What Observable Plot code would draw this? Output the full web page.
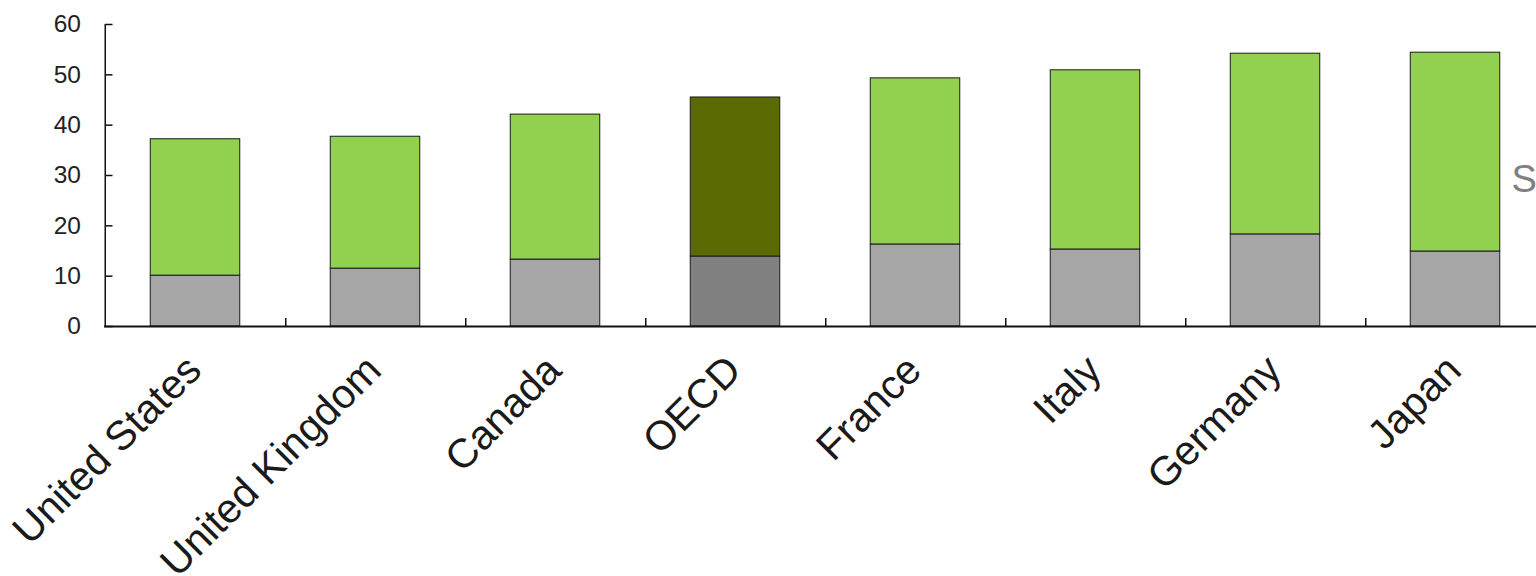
<!DOCTYPE html>
<html>
<head>
<meta charset="utf-8">
<script src="https://cdn.jsdelivr.net/npm/d3@7"></script>
<script src="https://cdn.jsdelivr.net/npm/@observablehq/plot@0.6"></script>
<style>
  html, body { margin: 0; padding: 0; background: #fff; overflow: hidden; }
  #chart svg { overflow: hidden; display: block; }
</style>
</head>
<body>
<div id="chart"></div>
<script>
const countries = ["United States", "United Kingdom", "Canada", "OECD", "France", "Italy", "Germany", "Japan"];
const lowerValues = [10.1, 11.5, 13.3, 13.9, 16.3, 15.3, 18.3, 14.9];
const totalValues = [37.2, 37.7, 42.1, 45.5, 49.3, 50.9, 54.2, 54.4];
const yTicks = [0, 10, 20, 30, 40, 50, 60];
const legendFragment = ["S"];

const rows = countries.map((c, i) => ({country: c, lower: lowerValues[i], total: totalValues[i]}));
const isOECD = d => d.country === "OECD";
const font = "'Liberation Sans', Arial, sans-serif";

const chart = Plot.plot({
  width: 1536,
  height: 576,
  marginLeft: 104,
  marginTop: 24,
  marginBottom: 250,
  marginRight: 0,
  style: {fontFamily: font, background: "#fff", color: "#222"},
  x: {domain: countries, range: [103, 1547], padding: 0, axis: null},
  y: {domain: [0, 60], ticks: yTicks, axis: null},
  marks: [
    Plot.barY(rows, {x: "country", y1: 0, y2: "lower", insetLeft: 45.25, insetRight: 45.25,
      fill: d => isOECD(d) ? "#808080" : "#a6a6a6", stroke: "#1a1a1a", strokeWidth: 1}),
    Plot.barY(rows, {x: "country", y1: "lower", y2: "total", insetLeft: 45.25, insetRight: 45.25,
      fill: d => isOECD(d) ? "#5b6a03" : "#92d050", stroke: "#1a1a1a", strokeWidth: 1}),
    Plot.text(yTicks, {x: () => countries[0], y: d => d, dx: -114.5, text: d => String(d), textAnchor: "end",
      lineAnchor: "middle", fontSize: 24.5, fill: "#222"}),
    Plot.tickY(yTicks, {y: d => d, x: () => countries[0], insetRight: 172.5, stroke: "#111", strokeWidth: 1.5}),
    Plot.ruleX([countries[0]], {x: d => d, dx: -90.25, y1: 0, y2: 60, stroke: "#111", strokeWidth: 1.5}),
    Plot.ruleX(countries, {x: d => d, dx: 90.25, y1: 0, y2: 1.6, stroke: "#111", strokeWidth: 1.5}),
    Plot.ruleY([0], {stroke: "#111", strokeWidth: 2}),
    Plot.text(countries, {x: d => d, y: 0, dx: 8, dy: 46, rotate: -45, textAnchor: "end", lineAnchor: "bottom",
      fontSize: 41, fill: "#1a1a1a"}),
    Plot.text(legendFragment, {x: () => "Japan", y: 29.2, dx: 56, text: d => d, textAnchor: "start", lineAnchor: "middle",
      fontSize: 38, fill: "#808080"})
  ]
});
document.getElementById("chart").appendChild(chart);
</script>
</body>
</html>
